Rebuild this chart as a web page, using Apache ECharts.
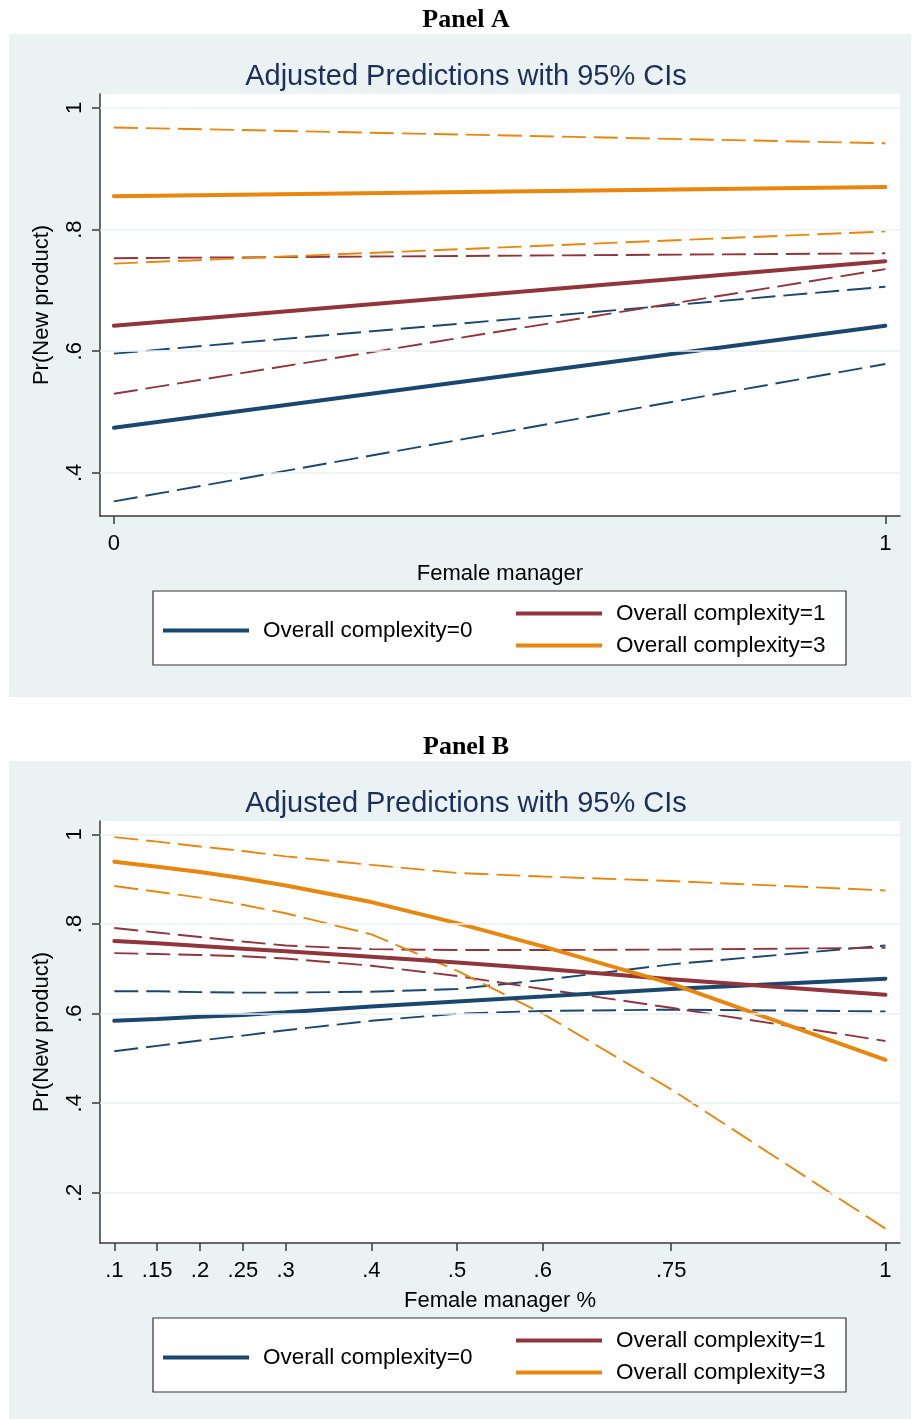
<!DOCTYPE html>
<html>
<head>
<meta charset="utf-8">
<script src="https://cdn.jsdelivr.net/npm/echarts@6/dist/echarts.min.js"></script>
<style>html,body{margin:0;padding:0;background:#fff;}#c{width:912px;height:1419px;}</style>
</head>
<body>
<div id="c"></div>
<script>
// ---------- data ----------
const seriesNames = ['Overall complexity=0', 'Overall complexity=1', 'Overall complexity=3'];

// Panel A
const xA = [0, 1];
const c0A = [0.474, 0.642], c0A_lo = [0.353, 0.579], c0A_hi = [0.596, 0.706];
const c1A = [0.642, 0.748], c1A_lo = [0.530, 0.735], c1A_hi = [0.753, 0.761];
const c3A = [0.855, 0.870], c3A_lo = [0.744, 0.797], c3A_hi = [0.968, 0.942];
const xTicksA = [0, 1], xTickLabelsA = ['0', '1'];
const yTicksA = [0.4, 0.6, 0.8, 1], yTickLabelsA = ['.4', '.6', '.8', '1'];

// Panel B
const xB = [0.1, 0.15, 0.2, 0.25, 0.3, 0.4, 0.5, 0.6, 0.75, 1];
const c0B    = [0.584, 0.588, 0.593, 0.597, 0.603, 0.616, 0.627, 0.638, 0.655, 0.678];
const c0B_hi = [0.650, 0.650, 0.648, 0.647, 0.647, 0.649, 0.655, 0.675, 0.710, 0.752];
const c0B_lo = [0.516, 0.528, 0.540, 0.551, 0.563, 0.584, 0.600, 0.606, 0.609, 0.605];
const c1B    = [0.762, 0.757, 0.751, 0.745, 0.739, 0.727, 0.714, 0.700, 0.677, 0.642];
const c1B_hi = [0.791, 0.781, 0.771, 0.761, 0.752, 0.744, 0.742, 0.742, 0.743, 0.747];
const c1B_lo = [0.735, 0.733, 0.731, 0.728, 0.723, 0.707, 0.684, 0.655, 0.613, 0.539];
const c3B    = [0.939, 0.928, 0.916, 0.902, 0.886, 0.849, 0.802, 0.750, 0.667, 0.497];
const c3B_hi = [0.994, 0.984, 0.973, 0.963, 0.951, 0.932, 0.914, 0.906, 0.896, 0.875];
const c3B_lo = [0.885, 0.872, 0.859, 0.843, 0.824, 0.777, 0.696, 0.600, 0.431, 0.120];
const xTicksB = [0.1, 0.15, 0.2, 0.25, 0.3, 0.4, 0.5, 0.6, 0.75, 1];
const xTickLabelsB = ['.1', '.15', '.2', '.25', '.3', '.4', '.5', '.6', '.75', '1'];
const yTicksB = [0.2, 0.4, 0.6, 0.8, 1], yTickLabelsB = ['.2', '.4', '.6', '.8', '1'];

// ---------- style ----------
const COLORS = ['#1a476f', '#90353b', '#e8860e'];
const FONT = '"Liberation Sans", Arial, sans-serif';
const BG = '#eaf2f3';
const AX = '#3a3a3a';
const OFF = 727; // vertical offset of panel B

function pairs(xs, ys) { return xs.map((x, i) => [x, ys[i]]); }
function labelFor(ticks, labels) {
  return v => { const i = ticks.findIndex(t => Math.abs(t - v) < 1e-9); return i >= 0 ? labels[i] : ''; };
}

function xAxisOf(gridIndex, min, max, ticks, labels, name) {
  return {
    type: 'value', gridIndex, min, max,
    axisLine: { show: true, onZero: false, lineStyle: { color: AX, width: 1.5 } },
    axisTick: { show: true, length: 8, customValues: ticks, lineStyle: { color: AX, width: 1.5 } },
    axisLabel: { customValues: ticks, formatter: labelFor(ticks, labels), fontSize: 22, fontFamily: FONT, color: '#000', margin: 17 },
    splitLine: { show: false },
    name, nameLocation: 'middle', nameGap: 47,
    nameTextStyle: { fontSize: 22, fontFamily: FONT, color: '#000' }
  };
}
function yAxisOf(gridIndex, min, max, ticks, labels) {
  return {
    type: 'value', gridIndex, min, max,
    axisLine: { show: true, onZero: false, lineStyle: { color: AX, width: 1.5 } },
    axisTick: { show: true, length: 8, customValues: ticks, lineStyle: { color: AX, width: 1.5 } },
    axisLabel: { customValues: ticks, formatter: labelFor(ticks, labels), rotate: 90, fontSize: 22, fontFamily: FONT, color: '#000', margin: 14 },
    splitLine: { show: false },
    name: 'Pr(New product)', nameLocation: 'middle', nameGap: 47,
    nameTextStyle: { fontSize: 22, fontFamily: FONT, color: '#000' }
  };
}

function solid(name, idx, xs, ys, gi) {
  return {
    type: 'line', name, xAxisIndex: gi, yAxisIndex: gi, data: pairs(xs, ys),
    showSymbol: false, symbol: 'none', z: 4, silent: true,
    lineStyle: { color: COLORS[idx], width: 4, cap: 'round' },
    itemStyle: { color: COLORS[idx] }
  };
}
let ciCount = 0;
function dashed(idx, xs, ys, gi, grid) {
  const s = {
    type: 'line', name: 'ci' + (ciCount++),
    xAxisIndex: gi, yAxisIndex: gi, data: pairs(xs, ys),
    showSymbol: false, symbol: 'none', z: 3, silent: true,
    lineStyle: { color: COLORS[idx], width: 1.9, type: [24, 8] }
  };
  if (grid) {
    s.markLine = {
      silent: true, symbol: 'none', label: { show: false }, animation: false,
      lineStyle: { color: BG, width: 1.5, type: 'solid' },
      data: grid.map(v => ({ yAxis: v }))
    };
  }
  return s;
}

const series = [
  // Panel A
  dashed(0, xA, c0A_lo, 0, yTicksA), dashed(0, xA, c0A_hi, 0),
  dashed(1, xA, c1A_lo, 0), dashed(1, xA, c1A_hi, 0),
  dashed(2, xA, c3A_lo, 0), dashed(2, xA, c3A_hi, 0),
  solid(seriesNames[0], 0, xA, c0A, 0),
  solid(seriesNames[1], 1, xA, c1A, 0),
  solid(seriesNames[2], 2, xA, c3A, 0),
  // Panel B
  dashed(0, xB, c0B_lo, 1, yTicksB), dashed(0, xB, c0B_hi, 1),
  dashed(1, xB, c1B_lo, 1), dashed(1, xB, c1B_hi, 1),
  dashed(2, xB, c3B_lo, 1), dashed(2, xB, c3B_hi, 1),
  solid(seriesNames[0], 0, xB, c0B, 1),
  solid(seriesNames[1], 1, xB, c1B, 1),
  solid(seriesNames[2], 2, xB, c3B, 1)
];

function legendPair(offset) {
  const common = {
    icon: 'rect', itemWidth: 86, itemHeight: 4, selectedMode: false,
    textStyle: { fontSize: 22.5, fontFamily: FONT, color: '#000', padding: [0, 0, 0, 9] }
  };
  return [
    Object.assign({ data: [seriesNames[0]], orient: 'horizontal', left: 158, top: 614 + offset }, common),
    Object.assign({ data: [seriesNames[1], seriesNames[2]], orient: 'vertical', left: 511, top: 597 + offset, itemGap: 9 }, common)
  ];
}

function panelGraphics(offset, label, bottom) {
  return [
    { type: 'rect', silent: true, z: -10, shape: { x: 9, y: 34 + offset, width: 902, height: bottom - 34 - offset }, style: { fill: BG } },
    { type: 'text', silent: true, x: 466, y: 20 + offset, style: { text: label, font: 'bold 26px "Liberation Serif", "Times New Roman", serif', fill: '#000', align: 'center', verticalAlign: 'middle' } },
    { type: 'rect', silent: true, z: 1, shape: { x: 153, y: 591 + offset, width: 693, height: 74 }, style: { fill: '#fff', stroke: '#333', lineWidth: 1.2 } }
  ];
}

const titleStyle = { fontSize: 29, fontWeight: 'normal', fontFamily: FONT, color: '#1c2f5b' };
const chart = echarts.init(document.getElementById('c'), null, { renderer: 'canvas' });
chart.setOption({
  animation: false,
  backgroundColor: '#fff',
  title: [
    { text: 'Adjusted Predictions with 95% CIs', left: 461, top: 57, textAlign: 'center', textStyle: titleStyle },
    { text: 'Adjusted Predictions with 95% CIs', left: 461, top: 57 + OFF, textAlign: 'center', textStyle: titleStyle }
  ],
  graphic: { elements: panelGraphics(0, 'Panel A', 697).concat(panelGraphics(OFF, 'Panel B', 1419)) },
  grid: [
    { left: 100, top: 94, width: 800, height: 422, show: true, backgroundColor: '#fff', borderWidth: 0 },
    { left: 100, top: 94 + OFF, width: 800, height: 422, show: true, backgroundColor: '#fff', borderWidth: 0 }
  ],
  xAxis: [
    xAxisOf(0, -0.018, 1.019, xTicksA, xTickLabelsA, 'Female manager'),
    xAxisOf(1, 0.0833, 1.017, xTicksB, xTickLabelsB, 'Female manager %')
  ],
  yAxis: [
    yAxisOf(0, 0.329, 1.023, yTicksA, yTickLabelsA),
    yAxisOf(1, 0.088, 1.030, yTicksB, yTickLabelsB)
  ],
  legend: legendPair(0).concat(legendPair(OFF)),
  series
});
</script>
</body>
</html>
